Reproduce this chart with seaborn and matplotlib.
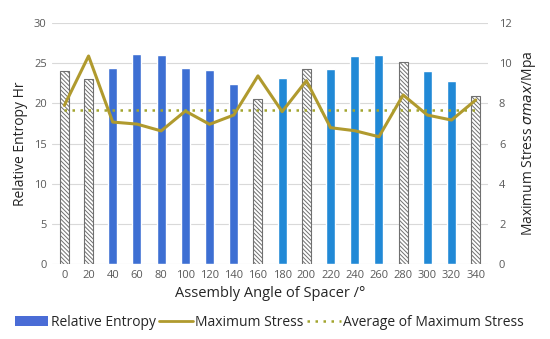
import numpy as np
import pandas as pd
import seaborn as sns
import matplotlib.pyplot as plt
from matplotlib.patches import Patch
from matplotlib.lines import Line2D

angles = [0, 20, 40, 60, 80, 100, 120, 140, 160, 180, 200, 220, 240, 260, 280, 300, 320, 340]
entropy = [24.0, 23.0, 24.4, 26.1, 26.0, 24.4, 24.2, 22.4, 20.6, 23.1, 24.3, 24.3, 25.9, 26.0, 25.2, 24.0, 22.8, 20.9]
stress = [7.9, 10.36, 7.07, 6.97, 6.63, 7.62, 6.96, 7.42, 9.37, 7.59, 9.13, 6.79, 6.64, 6.34, 8.42, 7.42, 7.17, 8.17]
hatched = [0, 20, 160, 200, 280, 340]

sns.set_theme(style="white")
plt.rcParams['font.family'] = ['Open Sans', 'DejaVu Sans']
plt.rcParams['hatch.color'] = '#8a8a8a'
plt.rcParams['hatch.linewidth'] = 0.7

df = pd.DataFrame({"angle": [str(a) for a in angles], "entropy": entropy, "stress": stress})
df["avg"] = np.mean(stress)

blue1 = "#3d6fd3"
blue2 = "#2189d6"
colors = {str(a): (blue1 if a < 180 else blue2) for a in angles}

fig, ax = plt.subplots(figsize=(5.5, 3.39), dpi=100)
fig.subplots_adjust(left=0.095, right=0.887, top=0.932, bottom=0.221)

sns.barplot(data=df, x="angle", y="entropy", hue="angle", palette=colors,
            width=0.37, saturation=1, legend=False, ax=ax, zorder=2)
for patch, a in zip(ax.patches, angles):
    if a in hatched:
        patch.set_facecolor("white")
        patch.set_edgecolor("#707070")
        patch.set_linewidth(0.8)
        patch.set_hatch("\\\\\\\\\\\\\\\\")

ax.set_ylim(0, 30)
ax.set_yticks(range(0, 31, 5))
ax.set_xlim(-0.5, len(angles) - 0.5)
ax.yaxis.grid(True, color="#d9d9d9", linewidth=0.8, zorder=0)
ax.set_axisbelow(True)
for s in ax.spines.values():
    s.set_visible(False)
ax.set_xlabel("Assembly Angle of Spacer /°", fontsize=10.5, color="#262626", labelpad=4)
ax.set_ylabel("Relative Entropy Hr", fontsize=10, color="#262626", labelpad=4)
ax.tick_params(axis="both", labelsize=8, colors="#595959", length=0, pad=4)
ax.set_xticks(np.arange(-0.5, len(angles), 1), minor=True)
ax.tick_params(axis="x", which="minor", length=3, color="#d9d9d9")

ax2 = ax.twinx()
sns.lineplot(data=df, x="angle", y="stress", color="#b09a2e", linewidth=2.2, ax=ax2, zorder=3)
sns.lineplot(data=df, x="angle", y="avg", color="#a3a52e", linewidth=1.8,
             linestyle=(0, (1, 2.2)), ax=ax2, zorder=3)
ax2.set_ylim(0, 12)
ax2.set_yticks(range(0, 13, 2))
for s in ax2.spines.values():
    s.set_visible(False)
ax2.tick_params(axis="y", labelsize=8, colors="#595959", length=0, pad=8)
ax2.set_ylabel(r"Maximum Stress $\sigma max$/Mpa", fontsize=10, color="#262626", labelpad=6)
ax2.set_xlabel("")

handles = [Patch(facecolor="#4a6cd6", edgecolor="none"),
           Line2D([], [], color="#b09a2e", linewidth=2),
           Line2D([], [], color="#a3a52e", linewidth=1.8, linestyle=(0, (1, 2.2)))]
labels = ["Relative Entropy", "Maximum Stress", "Average of Maximum Stress"]
fig.legend(handles, labels, loc="lower center", ncol=3, frameon=False,
           fontsize=10, bbox_to_anchor=(0.49, -0.01), handlelength=2.4,
           handletextpad=0.2, columnspacing=0.25, labelcolor="#262626")

fig.savefig("out.png", dpi=100)
